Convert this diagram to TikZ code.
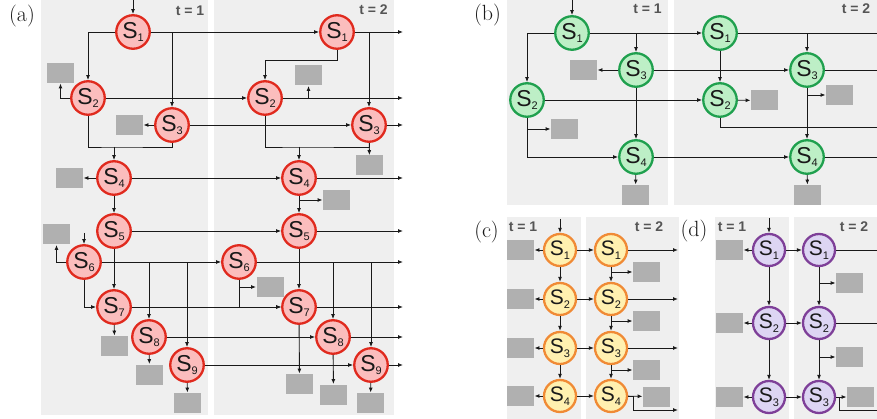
\documentclass[tikz,border=0pt]{standalone}
\usepackage{fontspec}
\setsansfont{Liberation Sans}
\usetikzlibrary{arrows.meta,positioning}
\definecolor{panelgray}{HTML}{EFEFEF}
\definecolor{boxgray}{HTML}{B0B0B0}
\definecolor{labgray}{HTML}{555555}
\definecolor{redline}{HTML}{E02A1E}
\definecolor{redfill}{HTML}{FBBDBD}
\definecolor{greenline}{HTML}{1FA04E}
\definecolor{greenfill}{HTML}{BDEFC6}
\definecolor{orangeline}{HTML}{F08A35}
\definecolor{yellowfill}{HTML}{FFF0B0}
\definecolor{purpleline}{HTML}{7E3F98}
\definecolor{lilacfill}{HTML}{DDD5F3}
\newcommand{\Sname}[1]{S\raisebox{-3.5pt}{\fontsize{11}{11}\selectfont #1}}
\tikzset{
  bigstate/.style={circle, line width=2.3pt, minimum size=33.5pt, inner sep=0pt, font=\fontsize{23}{23}\selectfont\sffamily},
  smallstate/.style={circle, line width=2.3pt, minimum size=32pt, inner sep=0pt, font=\fontsize{21}{21}\selectfont\sffamily},
  redst/.style={bigstate, draw=redline, fill=redfill},
  greenst/.style={bigstate, draw=greenline, fill=greenfill},
  orangest/.style={smallstate, draw=orangeline, fill=yellowfill},
  purplest/.style={smallstate, draw=purpleline, fill=lilacfill},
  outbox/.style={fill=boxgray, minimum width=27pt, minimum height=20pt, inner sep=0pt},
  arr/.style={-{Latex[length=5pt,width=4pt]}},
  tlabel/.style={font=\fontsize{14}{14}\selectfont\sffamily\bfseries, text=labgray},
  plabel/.style={font=\fontsize{22}{22}\selectfont, inner sep=0pt}
}
\begin{document}
\begin{tikzpicture}[x=1pt, y=-1pt, line width=0.9pt, color=black!90]
\useasboundingbox (0,0) rectangle (877,419);
\fill[panelgray] (41,0) rectangle (208,415);
\fill[panelgray] (214,0) rectangle (394,415);
\fill[panelgray] (507,0) rectangle (668,205);
\fill[panelgray] (674,0) rectangle (877,205);
\fill[panelgray] (507,217) rectangle (581,419);
\fill[panelgray] (586,217) rectangle (679,419);
\fill[panelgray] (715,217) rectangle (789,419);
\fill[panelgray] (794,217) rectangle (877,419);

\node[plabel] (pa) at (22,16) {(a)};
\node[plabel] (pb) at (487.5,15) {(b)};
\node[plabel] (pc) at (486.5,232.5) {(c)};
\node[plabel] (pd) at (694,231) {(d)};
\node[tlabel] (ta1) at (190,10.5) {t = 1};
\node[tlabel] (ta2) at (373.5,10) {t = 2};
\node[tlabel] (tb1) at (647.5,9) {t = 1};
\node[tlabel] (tb2) at (856,9) {t = 2};
\node[tlabel] (tc1) at (523,227) {t = 1};
\node[tlabel] (tc2) at (649,227) {t = 2};
\node[tlabel] (td1) at (732,227) {t = 1};
\node[tlabel] (td2) at (854,227) {t = 2};

\node[redst] (a1s1) at (133,32) {\Sname{1}};
\node[redst] (a1s2) at (88,98) {\Sname{2}};
\node[redst] (a1s3) at (172,125) {\Sname{3}};
\node[redst] (a1s4) at (114,178) {\Sname{4}};
\node[redst] (a1s5) at (114,231) {\Sname{5}};
\node[redst] (a1s6) at (84,262) {\Sname{6}};
\node[redst] (a1s7) at (114,307) {\Sname{7}};
\node[redst] (a1s8) at (149,337) {\Sname{8}};
\node[redst] (a1s9) at (187,365) {\Sname{9}};
\node[redst] (a2s1) at (337,32) {\Sname{1}};
\node[redst] (a2s2) at (265,98) {\Sname{2}};
\node[redst] (a2s3) at (369,125) {\Sname{3}};
\node[redst] (a2s4) at (299,178) {\Sname{4}};
\node[redst] (a2s5) at (299,231) {\Sname{5}};
\node[redst] (a2s6) at (239,262) {\Sname{6}};
\node[redst] (a2s7) at (299,307) {\Sname{7}};
\node[redst] (a2s8) at (333,337) {\Sname{8}};
\node[redst] (a2s9) at (371,365) {\Sname{9}};

\node[outbox] (a1b2) at (60.5,73) {};
\node[outbox] (a1b3) at (129.5,125) {};
\node[outbox] (a1b4) at (69.5,178) {};
\node[outbox] (a1b6) at (56.5,234.5) {};
\node[outbox] (a1b7) at (114.5,346) {};
\node[outbox] (a1b8) at (149.5,374.5) {};
\node[outbox] (a1b9) at (187.5,403) {};
\node[outbox] (a2b2) at (308.5,75.5) {};
\node[outbox] (a2b3) at (369.5,165.5) {};
\node[outbox] (a2b4) at (336.5,200) {};
\node[outbox] (a2b6) at (270,287) {};
\node[outbox] (a2b7) at (299.5,384) {};
\node[outbox] (a2b8) at (333.5,394.5) {};
\node[outbox] (a2b9) at (370.5,403) {};

\coordinate (a1in) at (133,0);
\coordinate (a1in6) at (84,233);
\coordinate (a1j) at (114,147);
\coordinate (a2k) at (337,60);
\coordinate (a2j) at (299,147);
\foreach \i/\y in {1/32,2/98,3/125,4/178,5/231,6/262,7/307,8/337,9/365}
  \coordinate (a2e\i) at (403,\y);

\foreach \i in {1,...,9} {
  \draw[arr] (a1s\i) -- (a2s\i);
  \draw[arr] (a2s\i) -- (a2e\i);
}
\draw[arr] (a1in) -- (a1s1);
\draw[arr] (a1s1) -| (a1s2);
\draw[arr] (a1s1) -| (a1s3);
\draw[arr] (a1s2) -| (a1b2);
\draw (a1s2) |- (a1j) -| (a1s3);
\draw[arr] (a1j) -- (a1s4);
\draw[arr] (a1s3) -- (a1b3);
\draw[arr] (a1s4) -- (a1b4);
\draw[arr] (a1s4) -- (a1s5);
\draw[arr] (a1s5) -- (a1s7);
\draw[arr] (a1in6) -- (a1s6);
\draw[arr] (a1s6) -| (a1b6);
\draw[arr] (a1s6) -| (a1s8);
\draw[arr] (a1s6) -| (a1s9);
\draw[arr] (a1s6) |- (a1s7);
\draw[arr] (a1s7) -- (a1b7);
\draw[arr] (a1s8) -- (a1b8);
\draw[arr] (a1s9) -- (a1b9);

\draw[arr] (a2s1) -| (a2s3);
\draw[arr] (a2s1) -- (a2k) -| (a2s2);
\draw[arr] (a2s2) -| (a2b2);
\draw (a2s2) |- (a2j) -| (a2s3);
\draw[arr] (a2j) -- (a2s4);
\draw[arr] (a2s3) -- (a2b3);
\draw[arr] (a2s4) -- (a2s5);
\draw[arr] (a2s4) |- (a2b4);
\draw[arr] (a2s5) -- (a2s7);
\draw[arr] (a2s6) -| (a2s8);
\draw[arr] (a2s6) -| (a2s9);
\draw[arr] (a2s6) |- (a2s7);
\draw[arr] (a2s6) |- (a2b6);
\draw[arr] (a2s7) -- (a2b7);
\draw[arr] (a2s8) -- (a2b8);
\draw[arr] (a2s9) -- (a2b9);

\node[greenst] (b1s1) at (572,33) {\Sname{1}};
\node[greenst] (b1s2) at (527,100) {\Sname{2}};
\node[greenst] (b1s3) at (636,70) {\Sname{3}};
\node[greenst] (b1s4) at (636,157) {\Sname{4}};
\node[greenst] (b2s1) at (720,33) {\Sname{1}};
\node[greenst] (b2s2) at (720,100) {\Sname{2}};
\node[greenst] (b2s3) at (807,70) {\Sname{3}};
\node[greenst] (b2s4) at (807,157) {\Sname{4}};
\node[outbox] (b1b2) at (564.5,129) {};
\node[outbox] (b1b3) at (583.5,70) {};
\node[outbox] (b1b4) at (635.5,195) {};
\node[outbox] (b2b2) at (764.5,100.5) {};
\node[outbox] (b2b3) at (839.5,95) {};
\node[outbox] (b2b4) at (807.5,195) {};
\coordinate (b1in) at (572,0);
\coordinate (b2e1) at (877,33);
\coordinate (b2e2) at (877,127);
\coordinate (b2e3) at (877,70);
\coordinate (b2e4) at (877,157);

\draw[arr] (b1in) -- (b1s1);
\foreach \i in {1,...,4}
  \draw[arr] (b1s\i) -- (b2s\i);
\draw[arr] (b1s1) -| (b1s2);
\draw[arr] (b1s1) -| (b1s3);
\draw[arr] (b1s3) -- (b1b3);
\draw[arr] (b1s3) -- (b1s4);
\draw[arr] (b1s2) |- (b1b2);
\draw[arr] (b1s2) |- (b1s4);
\draw[arr] (b1s4) -- (b1b4);
\draw (b2s1) -- (b2e1);
\draw[arr] (b2s1) -| (b2s3);
\draw[arr] (b2s1) -- (b2s2);
\draw (b2s3) -- (b2e3);
\draw[arr] (b2s3) -- (b2s4);
\draw[arr] (b2s3) |- (b2b3);
\draw[arr] (b2s2) -- (b2b2);
\draw (b2s2) |- (b2e2);
\draw (b2s4) -- (b2e4);
\draw[arr] (b2s4) -- (b2b4);

\foreach \i/\y in {1/250,2/299,3/348,4/396} {
  \node[orangest] (c1s\i) at (560,\y) {\Sname{\i}};
  \node[orangest] (c2s\i) at (611,\y) {\Sname{\i}};
  \node[outbox] (c1b\i) at (520.5,\y) {};
  \draw[arr] (c1s\i) -- (c1b\i);
  \draw[arr] (c1s\i) -- (c2s\i);
}
\foreach \i/\y in {1/250,2/299,3/348} {
  \node[outbox] (c2b\i) at (646.5,\y+22) {};
  \coordinate (c2e\i) at (678,\y);
  \draw[arr] (c2s\i) -- (c2e\i);
  \draw[arr] (c2s\i) |- (c2b\i);
}
\foreach \i/\j in {1/2,2/3,3/4} {
  \draw[arr] (c1s\i) -- (c1s\j);
  \draw[arr] (c2s\i) -- (c2s\j);
}
\node[outbox] (c2b4) at (656.5,396.5) {};
\coordinate (c1in) at (560,219);
\coordinate (c2e4) at (678,410);
\draw[arr] (c1in) -- (c1s1);
\draw[arr] (c2s4) -- (c2b4);
\draw[arr] (c2s4.east) -- ++(5,0) |- (c2e4);

\foreach \i/\y in {1/250,2/323,3/397} {
  \node[purplest] (d1s\i) at (769,\y) {\Sname{\i}};
  \node[purplest] (d2s\i) at (819,\y) {\Sname{\i}};
  \node[outbox] (d1b\i) at (729.5,\y) {};
  \draw[arr] (d1s\i) -- (d1b\i);
  \draw[arr] (d1s\i) -- (d2s\i);
}
\foreach \i/\j in {1/2,2/3} {
  \draw[arr] (d1s\i) -- (d1s\j);
  \draw[arr] (d2s\i) -- (d2s\j);
}
\node[outbox] (d2b1) at (849.5,283) {};
\node[outbox] (d2b2) at (849.5,357) {};
\node[outbox] (d2b3) at (860.5,397) {};
\coordinate (d1in) at (769,218);
\coordinate (d2e1) at (877,250);
\coordinate (d2e2) at (877,323);
\coordinate (d2e3) at (877,410);
\draw[arr] (d1in) -- (d1s1);
\draw (d2s1) -- (d2e1);
\draw (d2s2) -- (d2e2);
\draw[arr] (d2s1) |- (d2b1);
\draw[arr] (d2s2) |- (d2b2);
\draw[arr] (d2s3) -- (d2b3);
\draw (d2s3.east) -- ++(3,0) |- (d2e3);
\end{tikzpicture}
\end{document}
